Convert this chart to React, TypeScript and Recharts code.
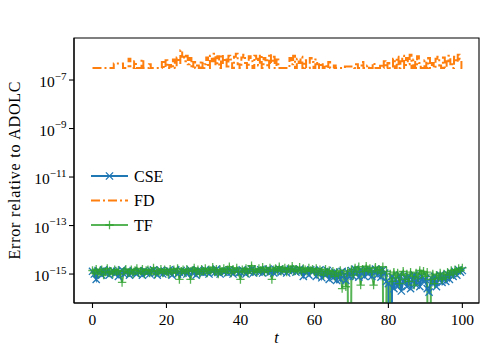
import React from 'react';
import { LineChart, Line, XAxis, YAxis, ReferenceArea } from 'recharts';

// time grid: samples every 0.5 from t = 0 to t = 100
const T_START = 0;
const T_STEP = 0.5;

// CSE error relative to ADOLC, in units of 1e-15 (0 = exact match)
const CSE_E15 = [
  1.3, 1.0, 0.6, 1.4, 1.2, 0.9, 1.5, 1.1, 1.3, 0.9,
  1.2, 1.4, 1.0, 1.3, 0.8, 1.2, 1.5, 1.0, 1.1, 1.3,
  0.9, 1.2, 1.4, 1.1, 1.0, 1.3, 1.2, 0.9, 1.4, 1.1,
  1.2, 1.0, 1.3, 1.5, 1.1, 0.9, 1.2, 1.4, 1.0, 1.3,
  1.1, 1.4, 1.2, 0.9, 1.3, 1.5, 1.0, 1.2, 1.4, 1.1,
  1.3, 1.0, 1.2, 1.5, 1.1, 1.3, 0.9, 1.4, 1.2, 1.3,
  1.1, 1.5, 1.2, 1.0, 1.4, 1.3, 1.1, 1.6, 1.2, 1.0,
  1.4, 1.2, 1.3, 1.1, 1.5, 1.2, 1.0, 1.4, 1.3, 1.1,
  1.2, 1.5, 1.3, 1.0, 1.4, 1.2, 1.6, 1.1, 1.3, 1.4,
  1.2, 1.5, 1.1, 1.4, 1.3, 1.6, 1.2, 1.4, 1.1, 1.5,
  1.3, 1.6, 1.2, 1.4, 1.5, 1.1, 1.4, 1.6, 1.3, 1.5,
  1.2, 1.4, 1.6, 1.3, 0.8, 1.4, 1.2, 0.9, 1.5, 1.3,
  1.4, 0.8, 1.3, 1.5, 0.7, 1.2, 0.9, 1.4, 0.6, 1.1,
  0.7, 1.2, 0.55, 1.0, 0.6, 1.3, 0.9, 0.55, 1.2, 0.8,
  1.4, 0.8, 1.6, 1.1, 0.75, 1.5, 1.2, 0.8, 1.4, 1.0,
  1.5, 0.8, 1.3, 1.6, 0.9, 1.4, 0.75, 1.5, 1.1, 0.5,
  0.4, 0, 0.8, 0.25, 0.6, 0.3, 0.9, 0.2, 0.5, 0.7,
  0.3, 0.8, 0.25, 0.6, 0.9, 0.35, 0.7, 0.3, 0.8, 0.5,
  0.6, 0.25, 0.18, 0.7, 0.4, 0.8, 0.3, 0.6, 0.9, 0.45,
  0.8, 0.5, 1.0, 0.6, 1.1, 0.8, 1.3, 0.9, 1.5, 1.2,
  1.4,
];

// FD error relative to ADOLC, in units of 1e-7
const FD_E7 = [
  3.1, 3.1, 3.1, 3.1, 3.1, 3.1, 3.1, 3.1, 3.1, 3.1,
  3.1, 3.1, 4.8, 4.8, 4.8, 4.8, 4.8, 3.1, 3.1, 3.1,
  7.5, 3.1, 3.1, 6.0, 3.1, 3.1, 3.1, 7.0, 3.1, 3.1,
  3.1, 4.5, 3.1, 3.1, 3.1, 3.1, 3.1, 3.1, 5.5, 3.1,
  6.5, 3.1, 4.2, 3.1, 7.0, 3.1, 8.5, 5.0, 17, 9.0,
  6.0, 10, 4.5, 8.0, 3.1, 5.5, 3.1, 4.0, 3.1, 6.0,
  3.1, 4.5, 8.5, 3.1, 10, 6.0, 12, 4.0, 9.5, 3.1,
  11, 5.0, 8.0, 3.1, 10, 7.0, 3.1, 9.0, 12, 4.5,
  3.1, 8.5, 11, 5.0, 3.1, 9.5, 6.0, 3.1, 10, 7.5,
  4.0, 11, 3.1, 8.0, 6.5, 3.1, 12, 5.0, 9.0, 3.1,
  7.0, 3.1, 3.1, 3.1, 3.1, 3.1, 3.1, 8.0, 4.5, 10,
  3.1, 7.5, 5.0, 9.0, 3.1, 6.5, 3.1, 3.1, 8.0, 5.5,
  3.1, 7.0, 4.5, 3.1, 5.0, 3.1, 4.2, 3.1, 5.5, 3.1,
  3.1, 4.0, 3.1, 3.1, 3.1, 3.1, 3.1, 3.6, 3.6, 3.6,
  3.6, 3.6, 3.1, 4.5, 3.1, 3.1, 5.5, 3.1, 3.1, 4.0,
  3.1, 3.1, 5.0, 3.1, 3.1, 3.1, 4.5, 3.1, 6.0, 3.1,
  5.0, 3.1, 3.1, 7.5, 3.1, 9.0, 3.1, 6.0, 10, 3.1,
  8.0, 4.5, 11, 3.1, 7.0, 3.1, 9.5, 5.0, 3.1, 3.1,
  6.5, 3.1, 8.0, 3.1, 5.0, 3.1, 7.5, 9.0, 4.0, 3.1,
  8.5, 3.1, 6.0, 10, 4.5, 3.1, 9.0, 5.5, 11, 7.0,
  3.1,
];

// TF error relative to ADOLC, in units of 1e-15 (0 = exact match)
const TF_E15 = [
  1.4, 1.1, 1.6, 1.0, 1.3, 1.5, 0.9, 1.2, 1.7, 1.1,
  1.3, 1.0, 1.5, 1.2, 1.4, 1.0, 0.45, 1.3, 1.6, 1.1,
  1.2, 1.5, 1.0, 1.4, 1.7, 1.1, 1.3, 1.6, 1.0, 1.4,
  1.5, 1.1, 1.3, 1.8, 1.0, 1.4, 1.2, 1.6, 1.1, 1.5,
  1.3, 1.0, 1.6, 1.2, 1.5, 1.1, 1.7, 0.6, 1.3, 1.5,
  1.1, 1.6, 1.3, 0.6, 1.4, 1.8, 1.2, 1.5, 1.0, 1.6,
  1.3, 1.7, 1.1, 1.5, 1.4, 1.9, 1.2, 1.6, 1.0, 1.5,
  1.3, 1.7, 1.2, 1.5, 2.0, 1.1, 1.6, 1.3, 1.8, 1.2,
  0.6, 1.5, 1.3, 1.7, 1.1, 1.6, 2.2, 1.3, 1.5, 1.2,
  1.7, 1.4, 1.9, 1.2, 1.6, 1.3, 1.8, 0.6, 1.5, 1.7,
  1.4, 2.0, 1.3, 1.6, 1.8, 1.2, 1.7, 1.5, 2.1, 1.3,
  1.6, 1.4, 1.9, 1.2, 1.7, 1.5, 1.3, 1.8, 1.4, 1.6,
  1.2, 1.7, 1.0, 1.5, 1.3, 0.9, 1.6, 1.1, 1.4, 1.0,
  1.3, 0.8, 1.2, 0.9, 1.4, 0.25, 1.1, 0.3, 1.3, 0,
  1.5, 0.9, 1.8, 1.2, 2.0, 0.35, 1.6, 1.3, 2.1, 1.4,
  1.7, 1.2, 0.35, 1.9, 1.4, 1.6, 1.1, 2.0, 0, 1.3,
  0, 1.0, 0.5, 1.2, 0.7, 1.1, 0.4, 0.9, 1.3, 0.6,
  1.0, 0.5, 1.2, 0.8, 0.35, 1.1, 0.7, 1.4, 1.0, 1.3,
  0.8, 1.2, 0, 0.6, 1.0, 0.4, 0.9, 0.7, 1.1, 0.6,
  1.0, 0.7, 1.2, 0.9, 1.4, 1.0, 1.5, 1.2, 1.7, 1.4,
  1.8,
];

const X_TICKS = [0, 20, 40, 60, 80, 100];
const Y_TICKS = [1e-15, 1e-13, 1e-11, 1e-9, 1e-7];
const X_DOMAIN: [number, number] = [-5, 104.5];
const Y_DOMAIN: [number, number] = [6.4e-17, 5.4e-6];

// like matplotlib's log axis, non-positive values are clipped far below the axis
const LOG_FLOOR = 1e-30;

const SERIES = [
  { key: 'cse', name: 'CSE', color: '#1f77b4', marker: 'x' },
  { key: 'fd', name: 'FD', color: '#ff7f0e', marker: 'none' },
  { key: 'tf', name: 'TF', color: '#2ca02c', marker: '+' },
];

const data = CSE_E15.map((c, i) => ({
  t: T_START + i * T_STEP,
  cse: c > 0 ? c * 1e-15 : LOG_FLOOR,
  fd: FD_E7[i] * 1e-7,
  tf: TF_E15[i] > 0 ? TF_E15[i] * 1e-15 : LOG_FLOOR,
}));

const FONT = '"Liberation Serif", "DejaVu Serif", serif';
const TICK_FS = 15.5;
const TEXT_FS = 16;
const TF_OPACITY = 0.8;
const DASHDOT = '9 3 2 3';

const markerPath = (kind: string, cx: number, cy: number) =>
  kind === 'x'
    ? `M${cx - 3.6},${cy - 3.6}L${cx + 3.6},${cy + 3.6}M${cx - 3.6},${cy + 3.6}L${cx + 3.6},${cy - 3.6}`
    : `M${cx - 4.2},${cy}L${cx + 4.2},${cy}M${cx},${cy - 4.2}L${cx},${cy + 4.2}`;

const makeDot = (kind: string, color: string, opacity: number) => (props: any) => {
  const { cx, cy, index, value } = props;
  const k = `${kind}-${index}`;
  if (cx == null || cy == null || !isFinite(cy) || !(value > LOG_FLOOR)) return <g key={k} />;
  return (
    <path
      key={k}
      d={markerPath(kind, cx, cy)}
      stroke={color}
      strokeOpacity={opacity}
      strokeWidth={1.3}
      fill="none"
    />
  );
};

const YTick = (props: any) => {
  const { x, y, payload } = props;
  const exp = Math.round(Math.log10(payload.value));
  return (
    <text x={x + 1.5} y={y + 7} textAnchor="end" fontFamily={FONT} fontSize={TICK_FS} fill="#000">
      10
      <tspan dy={-7.5} fontSize={11}>{`\u2212${Math.abs(exp)}`}</tspan>
    </text>
  );
};

const XTick = (props: any) => {
  const { x, y, payload } = props;
  return (
    <text x={x} y={y + 13} textAnchor="middle" fontFamily={FONT} fontSize={TICK_FS} fill="#000">
      {payload.value}
    </text>
  );
};

const YLabel = (props: any) => {
  const vb = props.viewBox;
  const cx = 14;
  const cy = vb.y + vb.height / 2;
  return (
    <text
      x={cx}
      y={cy}
      transform={`rotate(-90 ${cx} ${cy})`}
      textAnchor="middle"
      dominantBaseline="central"
      fontFamily={FONT}
      fontSize={TEXT_FS}
      textLength={178}
      lengthAdjust="spacing"
      fill="#000"
    >
      Error relative to ADOLC
    </text>
  );
};

const XLabel = (props: any) => {
  const vb = props.viewBox;
  return (
    <text
      x={vb.x + vb.width / 2}
      y={343}
      textAnchor="middle"
      fontFamily={FONT}
      fontStyle="italic"
      fontSize={TEXT_FS}
      fill="#000"
    >
      t
    </text>
  );
};

const LegendBox = () => (
  <svg
    width={100}
    height={80}
    style={{ position: 'absolute', left: 85, top: 162, overflow: 'visible' }}
  >
    {SERIES.map((s, i) => {
      const y = 14 + i * 24.5;
      const op = s.key === 'tf' ? TF_OPACITY : 1;
      return (
        <g key={s.key}>
          <line
            x1={6}
            x2={43}
            y1={y}
            y2={y}
            stroke={s.color}
            strokeOpacity={op}
            strokeWidth={2}
            strokeDasharray={s.key === 'fd' ? DASHDOT : undefined}
          />
          {s.marker !== 'none' && (
            <path
              d={markerPath(s.marker, 24.5, y)}
              stroke={s.color}
              strokeOpacity={op}
              strokeWidth={1.3}
              fill="none"
            />
          )}
          <text x={49} y={y + 5.5} fontFamily={FONT} fontSize={TEXT_FS} fill="#000">
            {s.name}
          </text>
        </g>
      );
    })}
  </svg>
);

export default function App() {
  return (
    <div style={{ position: 'absolute', left: 0, top: 0, width: 491, height: 354, background: '#fff' }}>
      <LineChart
        width={491}
        height={354}
        data={data}
        margin={{ top: 38, right: 12, bottom: 0, left: 0 }}
      >
        <XAxis
          dataKey="t"
          type="number"
          domain={X_DOMAIN}
          ticks={X_TICKS}
          interval={0}
          allowDataOverflow
          height={51}
          tickSize={5}
          tickMargin={4}
          axisLine={{ stroke: '#000', strokeWidth: 1.1 }}
          tickLine={{ stroke: '#000', strokeWidth: 1.1 }}
          tick={<XTick />}
          label={<XLabel />}
        />
        <YAxis
          type="number"
          scale="log"
          domain={Y_DOMAIN}
          ticks={Y_TICKS}
          interval={0}
          allowDataOverflow
          width={74}
          tickSize={5}
          tickMargin={4}
          axisLine={{ stroke: '#000', strokeWidth: 1.1 }}
          tickLine={{ stroke: '#000', strokeWidth: 1.1 }}
          tick={<YTick />}
          label={<YLabel />}
        />
        <Line
          dataKey="cse"
          name="CSE"
          stroke="#1f77b4"
          strokeWidth={2}
          dot={makeDot('x', '#1f77b4', 1)}
          activeDot={false}
          isAnimationActive={false}
          type="linear"
        />
        <Line
          dataKey="fd"
          name="FD"
          stroke="#ff7f0e"
          strokeWidth={2}
          strokeDasharray={DASHDOT}
          dot={false}
          activeDot={false}
          isAnimationActive={false}
          type="step"
        />
        <Line
          dataKey="tf"
          name="TF"
          stroke="#2ca02c"
          strokeOpacity={TF_OPACITY}
          strokeWidth={2}
          dot={makeDot('+', '#2ca02c', TF_OPACITY)}
          activeDot={false}
          isAnimationActive={false}
          type="linear"
        />
        <ReferenceArea
          x1={X_DOMAIN[0]}
          x2={X_DOMAIN[1]}
          y1={Y_DOMAIN[0]}
          y2={Y_DOMAIN[1]}
          fill="none"
          stroke="#000"
          strokeWidth={1.1}
          ifOverflow="visible"
        />
      </LineChart>
      <LegendBox />
    </div>
  );
}
